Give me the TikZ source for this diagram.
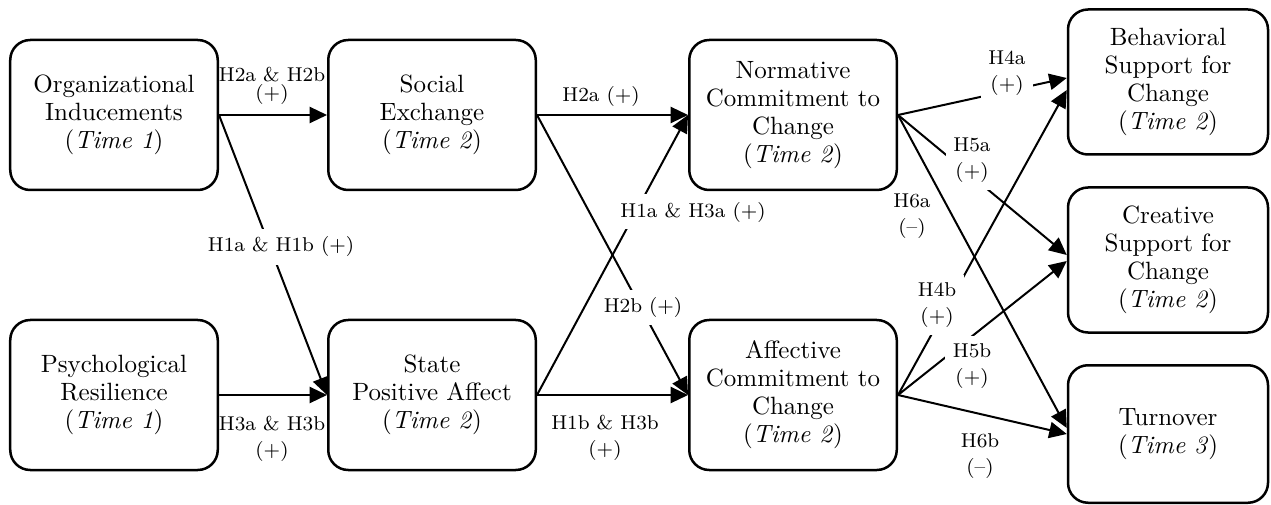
\documentclass[tikz,border=0pt]{standalone}
\usepackage{tikz}
\usetikzlibrary{arrows.meta}
\begin{document}
\begin{tikzpicture}[x=0.4pt,y=-0.4pt,font=\fontsize{10}{11.2}\selectfont,
  box/.style={draw,line width=1pt,rounded corners=8pt,align=center,inner sep=0pt},
  arr/.style={-{Triangle[length=7pt,width=6.5pt]},line width=0.8pt},
  hyp/.style={font=\fontsize{8}{10.4}\selectfont,align=center,inner sep=1pt},
  gap/.style={hyp,fill=white,inner sep=3pt}]
  \useasboundingbox (0,0) rectangle (1271,505);
  \foreach \n/\x/\y/\t in {oi/114/115/{Organizational\\Inducements\\(\textit{Time 1})},
      pr/114/395/{Psychological\\Resilience\\(\textit{Time 1})},
      se/432/115/{Social\\Exchange\\(\textit{Time 2})},
      spa/432/395/{State\\Positive Affect\\(\textit{Time 2})},
      nc/793/115/{Normative\\Commitment to\\Change\\(\textit{Time 2})},
      ac/793/395/{Affective\\Commitment to\\Change\\(\textit{Time 2})}}{
    \node[box,minimum width=83pt,minimum height=60pt] (\n) at (\x,\y) {\t};}
  \foreach \n/\y/\h/\t in {bs/82/58pt/{Behavioral\\Support for\\Change\\(\textit{Time 2})},
      cs/260/58pt/{Creative\\Support for\\Change\\(\textit{Time 2})},
      to/434/55pt/{Turnover\\(\textit{Time 3})}}{
    \node[box,minimum width=80pt,minimum height=\h] (\n) at (1168,\y) {\t};}
  \draw[arr] (oi.east) -- (se.west);
  \draw[arr] (oi.east) -- (spa.west);
  \draw[arr] (pr.east) -- (spa.west);
  \draw[arr] (se.east) -- (nc.west);
  \draw[arr] (se.east) -- (ac.west);
  \draw[arr] (spa.east) -- (nc.west);
  \draw[arr] (spa.east) -- (ac.west);
  \draw[arr] (nc.east) -- ([yshift=1.6pt]bs.west);
  \draw[arr] (ac.east) -- ([yshift=-3.2pt]bs.west);
  \draw[arr] (nc.east) -- ([yshift=2pt]cs.west);
  \draw[arr] (ac.east) -- ([yshift=-0.4pt]cs.west);
  \draw[arr] (nc.east) -- ([yshift=2.4pt]to.west);
  \draw[arr] (ac.east) -- (to.west);
  \node[hyp] (h2ab) at (272,86) {H2a \& H2b\\[-3pt](+)};
  \node[hyp] (h3ab) at (272,439) {H3a \& H3b\\(+)};
  \node[gap] (h1ab) at (281,247) {H1a \& H1b (+)};
  \node[hyp] (h2a) at (601,97) {H2a (+)};
  \node[gap] (h2b) at (643,307) {H2b (+)};
  \node[gap] (h1a3a) at (693,212) {H1a \& H3a (+)};
  \node[hyp] (h1b3b) at (605,438) {H1b \& H3b\\(+)};
  \node[gap] (h4a) at (1007,73) {H4a\\(+)};
  \node[gap] (h5a) at (972,160) {H5a\\(+)};
  \node[hyp] (h6a) at (912,216) {H6a\\(--)};
  \node[gap] (h4b) at (937,305) {H4b\\(+)};
  \node[gap] (h5b) at (972,366) {H5b\\(+)};
  \node[hyp] (h6b) at (980,456) {H6b\\(--)};
\end{tikzpicture}
\end{document}
